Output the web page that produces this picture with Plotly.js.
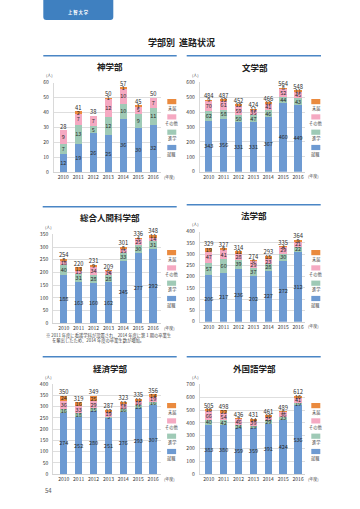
<!DOCTYPE html>
<html><head><meta charset="utf-8">
<script src="https://cdn.plot.ly/plotly-3.0.1.min.js"></script>
<style>html,body{margin:0;padding:0;background:#fff}#c{width:360px;height:509px}</style>
</head><body><div id="c"></div>
<script>
// ---- data ----
const years = ['2010','2011','2012','2013','2014','2015','2016'];
const seriesNames = ['就職','進学','その他','未届'];

// 神学部
const theo_job   = [12,19,26,25,36,30,32];
const theo_grad  = [7,13,5,12,10,9,11];
const theo_other = [9,7,7,12,10,5,7];
const theo_unk   = [0,2,0,1,1,1,0];
const theo_total = [28,41,38,50,57,45,50];
// 文学部
const lit_job   = [343,356,331,331,367,460,449];
const lit_grad  = [62,58,50,47,46,44,43];
const lit_other = [70,61,59,35,41,52,45];
const lit_unk   = [9,12,12,11,12,8,11];
const lit_total = [484,487,452,424,466,564,548];
// 総合人間科学部
const hum_job   = [188,163,160,162,245,277,292];
const hum_grad  = [40,31,28,28,33,30,31];
const hum_other = [18,13,34,14,15,25,14];
const hum_unk   = [8,13,9,5,8,4,11];
const hum_total = [254,220,231,209,301,336,348];
// 法学部
const law_job   = [206,217,236,202,227,272,312];
const law_grad  = [57,60,39,37,28,30,22];
const law_other = [47,41,28,29,23,29,21];
const law_unk   = [19,9,11,6,15,4,9];
const law_total = [329,327,314,274,293,335,364];
// 経済学部
const eco_job   = [274,252,280,251,276,293,307];
const eco_grad  = [16,18,15,5,16,15,16];
const eco_other = [36,33,29,19,18,16,19];
const eco_unk   = [24,16,25,12,13,11,14];
const eco_total = [350,319,349,287,323,335,356];
// 外国語学部
const for_job   = [383,380,359,359,391,424,536];
const for_grad  = [40,42,24,19,29,23,19];
const for_other = [66,54,46,39,25,36,41];
const for_unk   = [16,22,7,14,16,6,16];
const for_total = [505,498,436,431,461,489,612];

const chartTitles = ['神学部','文学部','総合人間科学部','法学部','経済学部','外国語学部'];
const yMax  = [60,600,350,400,400,700];
const yStep = [10,100,50,50,50,100];

// ---- style ----
const colors = ['#6d9ad2','#9fcab6','#f5a9c2','#ea8a3e'];
const FONT = '"Noto Sans CJK JP","Noto Sans",sans-serif';
const W = 360, H = 509;
const px = x => x / W;
const py = y => 1 - y / H;

const geo = [
  {l:53.5, r:160.8, top:82.7, bot:172.3, rng:[-0.65,6.5], titleY:66.5, titleX:110, lineY:55.7, legY:99, lineX:[43.3,176.7]},
  {l:199.5,r:304.8, top:82.3, bot:171.7, rng:[-0.62,6.45], titleY:67, titleX:255, lineY:55.7, legY:99, lineX:[186.7,321]},
  {l:53,   r:160.6, top:234.3,bot:323.3, rng:[-0.72,6.5], titleY:217.3, titleX:110, lineY:206.7, legY:250, lineX:[42.7,176.7]},
  {l:199.5,r:304.8, top:231.7,bot:321.7, rng:[-0.62,6.45], titleY:215, titleX:254, lineY:204.7, legY:250, lineX:[186.7,320.7]},
  {l:53,   r:160.6, top:384.3,bot:474,   rng:[-0.72,6.5], titleY:368.3, titleX:110, lineY:356.7, legY:403, lineX:[42.7,176.7]},
  {l:199.5,r:304.8, top:384.3,bot:474.3, rng:[-0.62,6.45], titleY:368.3, titleX:254, lineY:356.7, legY:403, lineX:[186.7,320.7]}
];

const allData = [
  [theo_job,theo_grad,theo_other,theo_unk,theo_total],
  [lit_job,lit_grad,lit_other,lit_unk,lit_total],
  [hum_job,hum_grad,hum_other,hum_unk,hum_total],
  [law_job,law_grad,law_other,law_unk,law_total],
  [eco_job,eco_grad,eco_other,eco_unk,eco_total],
  [for_job,for_grad,for_other,for_unk,for_total]
];

const traces = [];
const layout = {
  width: W, height: H, margin:{l:0,r:0,t:0,b:0},
  paper_bgcolor:'#fff', plot_bgcolor:'rgba(0,0,0,0)',
  barmode:'stack', bargap:0.5, showlegend:false,
  font:{family:FONT, color:'#333', size:5},
  shapes:[], annotations:[]
};

const labelFont = {size:5.5, color:'#2a2a2a', family:FONT};
const totalFont = {size:5.8, color:'#2a2a2a', family:FONT};

allData.forEach((d, i) => {
  const n = i + 1;
  const xa = 'x' + (n === 1 ? '' : n), ya = 'y' + (n === 1 ? '' : n);
  for (let s = 0; s < 4; s++) {
    traces.push({
      type:'bar', x:years, y:d[s], xaxis:xa, yaxis:ya, name:seriesNames[s],
      marker:{color:colors[s], line:{width:0}},
      text:d[s].map(v => v ? String(v) : ''),
      textposition:'inside', insidetextanchor:'middle', constraintext:'none', textangle:0,
      textfont:labelFont, insidetextfont:labelFont,
      hoverinfo:'skip', cliponaxis:false
    });
  }
  traces.push({
    type:'scatter', mode:'text', x:years, y:d[4], xaxis:xa, yaxis:ya,
    text:d[4].map(String), textposition:'top center',
    textfont:totalFont, hoverinfo:'skip', cliponaxis:false
  });
  const g = geo[i];
  const tv = []; for (let v = 0; v <= yMax[i]; v += yStep[i]) tv.push(v);
  layout['xaxis' + (n === 1 ? '' : n)] = {
    domain:[px(g.l), px(g.r)], anchor:ya, type:'category', range:g.rng,
    showgrid:false, showline:true, linecolor:'#c8c8c8', linewidth:0.8,
    ticks:'', tickfont:{size:5, color:'#333'}, fixedrange:true, zeroline:false
  };
  layout['yaxis' + (n === 1 ? '' : n)] = {
    domain:[py(g.bot), py(g.top)], anchor:xa, range:[0, yMax[i]],
    tickvals:tv, showgrid:true, gridcolor:'#d6d6d6', gridwidth:0.8,
    showline:true, linecolor:'#d0d0d0', linewidth:0.8, zeroline:false,
    ticks:'', ticklabelstandoff:3, tickfont:{size:5, color:'#333'}, fixedrange:true
  };
  layout.shapes.push({type:'line', xref:'paper', yref:'paper',
    x0:px(g.lineX[0]), x1:px(g.lineX[1]), y0:py(g.lineY), y1:py(g.lineY),
    line:{color:'#4a86c5', width:1.6}});
  layout.annotations.push({xref:'paper', yref:'paper', x:px(g.titleX), y:py(g.titleY),
    text:'<b>' + chartTitles[i] + '</b>', showarrow:false, xanchor:'center', yanchor:'middle',
    font:{size:8.5, color:'#222', family:FONT}});
  layout.annotations.push({xref:'paper', yref:'paper', x:px(g.l - 10), y:py(g.top - 7.5),
    text:'(人)', showarrow:false, xanchor:'left', yanchor:'middle', font:{size:4, color:'#444'}});
  layout.annotations.push({xref:'paper', yref:'paper', x:px(g.r + 1.5), y:py(g.bot + 4.6),
    text:'(年度)', showarrow:false, xanchor:'left', yanchor:'middle', font:{size:4, color:'#444'}});
  const lx = g.r + 6.5;
  [3,2,1,0].forEach((s, k) => {
    const y0 = g.legY + k * 15.3;
    layout.shapes.push({type:'rect', xref:'paper', yref:'paper',
      x0:px(lx), x1:px(lx + 9), y0:py(y0), y1:py(y0 + 5.2),
      fillcolor:colors[s], line:{width:0}});
    layout.annotations.push({xref:'paper', yref:'paper', x:px(lx + 4.5), y:py(y0 + 9.2),
      text:seriesNames[s], showarrow:false, xanchor:'center', yanchor:'middle',
      font:{size:4.2, color:'#444'}});
  });
});

// header tab
const tx0 = 43.3, tx1 = 113.3, ty1 = 20, r = 3;
layout.shapes.push({type:'path', xref:'paper', yref:'paper',
  path:`M ${px(tx0)} ${py(0)} L ${px(tx0)} ${py(ty1 - r)} Q ${px(tx0)} ${py(ty1)} ${px(tx0 + r)} ${py(ty1)} L ${px(tx1 - r)} ${py(ty1)} Q ${px(tx1)} ${py(ty1)} ${px(tx1)} ${py(ty1 - r)} L ${px(tx1)} ${py(0)} Z`,
  fillcolor:'#3f80c0', line:{width:0}});
layout.annotations.push({xref:'paper', yref:'paper', x:px(78), y:py(12.8),
  text:'<b>上 智 大 学</b>', showarrow:false, xanchor:'center', yanchor:'middle',
  font:{size:4.3, color:'#ffffff'}});
layout.annotations.push({xref:'paper', yref:'paper', x:px(181.5), y:py(42.3),
  text:'<b>学部別  進路状況</b>', showarrow:false, xanchor:'center', yanchor:'middle',
  font:{size:9, color:'#222'}});
layout.annotations.push({xref:'paper', yref:'paper', x:px(44), y:py(335),
  text:'※ 2011 年度に看護学科が設置され、2014 年度に第 1 期の卒業生', showarrow:false,
  xanchor:'left', yanchor:'middle', font:{size:4.3, color:'#444'}});
layout.annotations.push({xref:'paper', yref:'paper', x:px(49.5), y:py(340.3),
  text:'を輩出したため、2014 年度の卒業生数が増加。', showarrow:false,
  xanchor:'left', yanchor:'middle', font:{size:4.3, color:'#444'}});
layout.annotations.push({xref:'paper', yref:'paper', x:px(43), y:py(490.7),
  text:'54', showarrow:false, xanchor:'left', yanchor:'middle', font:{size:6, color:'#555'}});

Plotly.newPlot('c', traces, layout, {staticPlot:true, displayModeBar:false});
</script></body></html>
